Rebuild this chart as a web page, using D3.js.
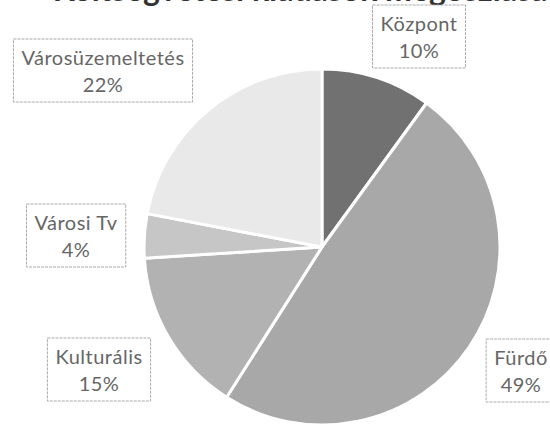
<!DOCTYPE html>
<html>
<head>
<meta charset="utf-8">
<script src="https://cdn.jsdelivr.net/npm/d3@7.9.0/dist/d3.min.js"></script>
<style>
  html, body { margin: 0; padding: 0; background: #fff; }
  svg { display: block; font-family: Lato, "Open Sans", sans-serif; }
</style>
</head>
<body>
<div id="chart"></div>
<script>
const categories = ['Központ', 'Fürdő', 'Kulturális', 'Városi Tv', 'Városüzemeltetés'];
const shares = [10, 49, 15, 4, 22];
const colors = ['#717171', '#a8a8a8', '#b2b2b2', '#c6c6c6', '#e9e9e9'];
// label box centres (layout only)
const labelPos = [[419, 37], [521, 371], [99, 370], [76, 236], [103, 71]];

const width = 550, height = 428;
const cx = 322, cy = 247, radius = 178;

const svg = d3.select('#chart').append('svg')
  .attr('width', width)
  .attr('height', height);

// title, mostly cut off by the top edge as in the scan
svg.append('text')
  .attr('x', 300)
  .attr('y', 1)
  .attr('text-anchor', 'middle')
  .attr('font-size', 32)
  .attr('font-weight', 'bold')
  .attr('fill', '#333')
  .text('Költségvetési kiadások megoszlása');

const data = categories.map((c, i) => ({ name: c, value: shares[i], color: colors[i], pos: labelPos[i] }));

const pie = d3.pie().sort(null).value(d => d.value);
const arc = d3.arc().innerRadius(0).outerRadius(radius);

const g = svg.append('g').attr('transform', `translate(${cx},${cy})`);
g.selectAll('path')
  .data(pie(data))
  .join('path')
  .attr('d', arc)
  .attr('fill', d => d.data.color)
  .attr('stroke', '#fff')
  .attr('stroke-width', 3)
  .attr('stroke-linejoin', 'round');

// data labels
const labels = svg.append('g').selectAll('g')
  .data(data)
  .join('g')
  .attr('transform', d => `translate(${d.pos[0]},${d.pos[1]})`);

labels.append('text')
  .attr('text-anchor', 'middle')
  .attr('y', -6)
  .attr('font-size', 20)
  .attr('letter-spacing', 0.5)
  .attr('fill', '#666')
  .text(d => d.name);
labels.append('text')
  .attr('text-anchor', 'middle')
  .attr('y', 21)
  .attr('font-size', 20)
  .attr('letter-spacing', 0.5)
  .attr('fill', '#666')
  .text(d => d.value + '%');

labels.each(function () {
  const grp = d3.select(this);
  const bb = this.getBBox();
  grp.insert('rect', 'text')
    .attr('x', bb.x - 8)
    .attr('y', -32)
    .attr('width', bb.width + 16)
    .attr('height', 63)
    .attr('fill', '#fff')
    .attr('stroke', '#aaa')
    .attr('stroke-width', 1)
    .attr('stroke-dasharray', '3,1');
});
</script>
</body>
</html>
